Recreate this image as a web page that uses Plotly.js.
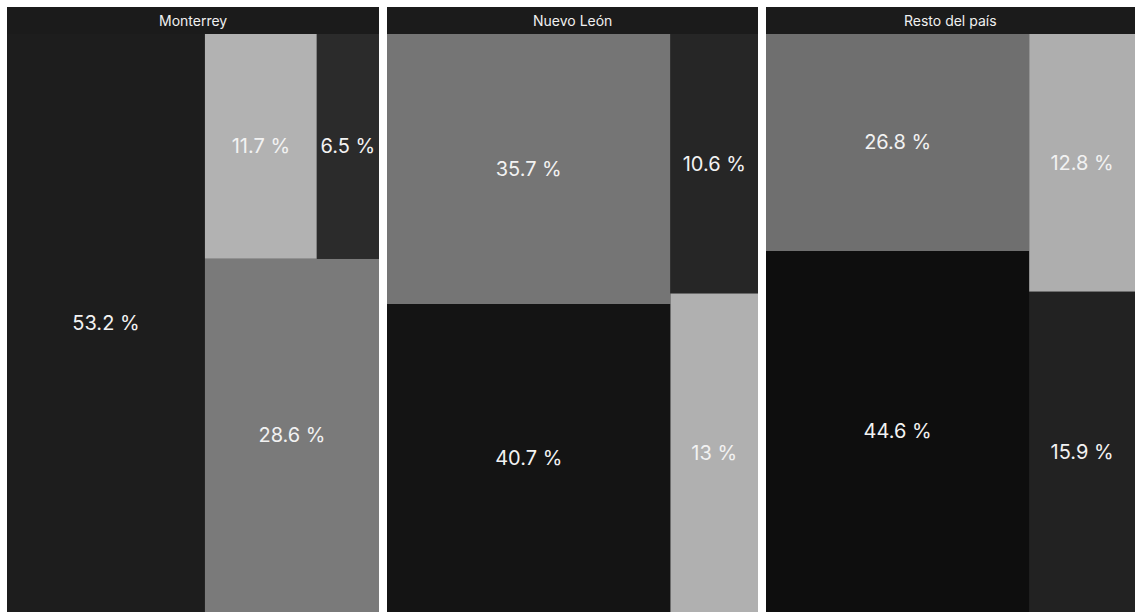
<!DOCTYPE html>
<html>
<head>
<meta charset="utf-8">
<script src="https://cdn.plot.ly/plotly-3.0.1.min.js"></script>
<style>
  html, body { margin: 0; padding: 0; background: #fff; }
  #chart { width: 1135px; height: 612px; }
</style>
</head>
<body>
<div id="chart"></div>
<script>
// Panel titles
const panelTitles = ['Monterrey', 'Nuevo León', 'Resto del país'];

// Category keys (four shares per panel, same order in each array)
const categories = ['A', 'B', 'C', 'D'];

// Shares (%) per panel, in category order A, B, C, D
const monterreyValues = [53.2, 28.6, 11.7, 6.5];
const nuevoLeonValues = [40.7, 35.7, 13, 10.6];
const restoValues = [44.6, 26.8, 12.8, 15.9];

// Tiling structure (nesting of category indices) for each panel
const monterreyTree = [0, [[2, 3], 1]];
const nuevoLeonTree = [[1, 0], [3, 2]];
const restoTree = [[1, 0], [2, 3]];

// Colours per panel for categories A, B, C, D
const monterreyColors = ['#1d1d1d', '#7a7a7a', '#b2b2b2', '#2b2b2b'];
const nuevoLeonColors = ['#141414', '#757575', '#b0b0b0', '#262626'];
const restoColors = ['#0e0e0e', '#6f6f6f', '#aeaeae', '#222222'];

const panelValues = [monterreyValues, nuevoLeonValues, restoValues];
const panelTrees = [monterreyTree, nuevoLeonTree, restoTree];
const panelColors = [monterreyColors, nuevoLeonColors, restoColors];

const W = 1135, H = 612;
const panelX = [[7, 379], [387, 758], [766, 1135]];
const headerTop = 7, headerBottom = 34;

function buildTrace(p) {
  const ids = [], labels = [], parents = [], values = [], texts = [], colors = [];
  const vals = panelValues[p], cols = panelColors[p];
  const rootId = 'root' + p;
  ids.push(rootId); labels.push(panelTitles[p]); parents.push(''); values.push(0); texts.push(''); colors.push('#1d1d1d');
  let g = 0;
  function walk(node, parentId) {
    if (Array.isArray(node)) {
      const gid = 'g' + p + '_' + (g++);
      ids.push(gid); labels.push(gid); parents.push(parentId); values.push(0); texts.push(''); colors.push('#1d1d1d');
      node.forEach(n => walk(n, gid));
    } else {
      ids.push('c' + p + '_' + categories[node]);
      labels.push(categories[node]);
      parents.push(parentId);
      values.push(vals[node]);
      texts.push(String(vals[node]) + ' %');
      colors.push(cols[node]);
    }
  }
  panelTrees[p].forEach(n => walk(n, rootId));
  return {
    type: 'treemap',
    ids: ids, labels: labels, parents: parents, values: values,
    text: texts,
    textinfo: 'text',
    textposition: 'middle center',
    branchvalues: 'remainder',
    sort: false,
    tiling: { packing: 'slice-dice', pad: 0 },
    pathbar: { visible: false },
    marker: {
      colors: colors,
      line: { width: 0 },
      pad: { t: 0, l: 0, r: 0, b: 0 }
    },
    textfont: { family: 'Inter, "Noto Sans", sans-serif', size: 20, color: '#f2f2f2' },
    hoverinfo: 'skip',
    domain: {
      x: [panelX[p][0] / W, panelX[p][1] / W],
      y: [0, (H - headerBottom) / H]
    }
  };
}

const data = [0, 1, 2].map(buildTrace);

const shapes = [], annotations = [];
panelTitles.forEach((t, p) => {
  shapes.push({
    type: 'rect', xref: 'paper', yref: 'paper',
    x0: panelX[p][0] / W, x1: panelX[p][1] / W,
    y0: (H - headerBottom) / H, y1: (H - headerTop) / H,
    fillcolor: '#1b1b1b', line: { width: 0 }, layer: 'below'
  });
  annotations.push({
    xref: 'paper', yref: 'paper',
    x: (panelX[p][0] + panelX[p][1]) / 2 / W,
    y: (H - (headerTop + headerBottom) / 2) / H,
    xanchor: 'center', yanchor: 'middle',
    text: t, showarrow: false,
    font: { family: 'Inter, "Noto Sans", sans-serif', size: 14, color: '#f0f0f0' }
  });
});

const layout = {
  width: W, height: H,
  margin: { l: 0, r: 0, t: 0, b: 0 },
  paper_bgcolor: '#ffffff',
  plot_bgcolor: '#ffffff',
  showlegend: false,
  shapes: shapes,
  annotations: annotations
};

Plotly.newPlot('chart', data, layout, { displayModeBar: false, staticPlot: true });
</script>
</body>
</html>
